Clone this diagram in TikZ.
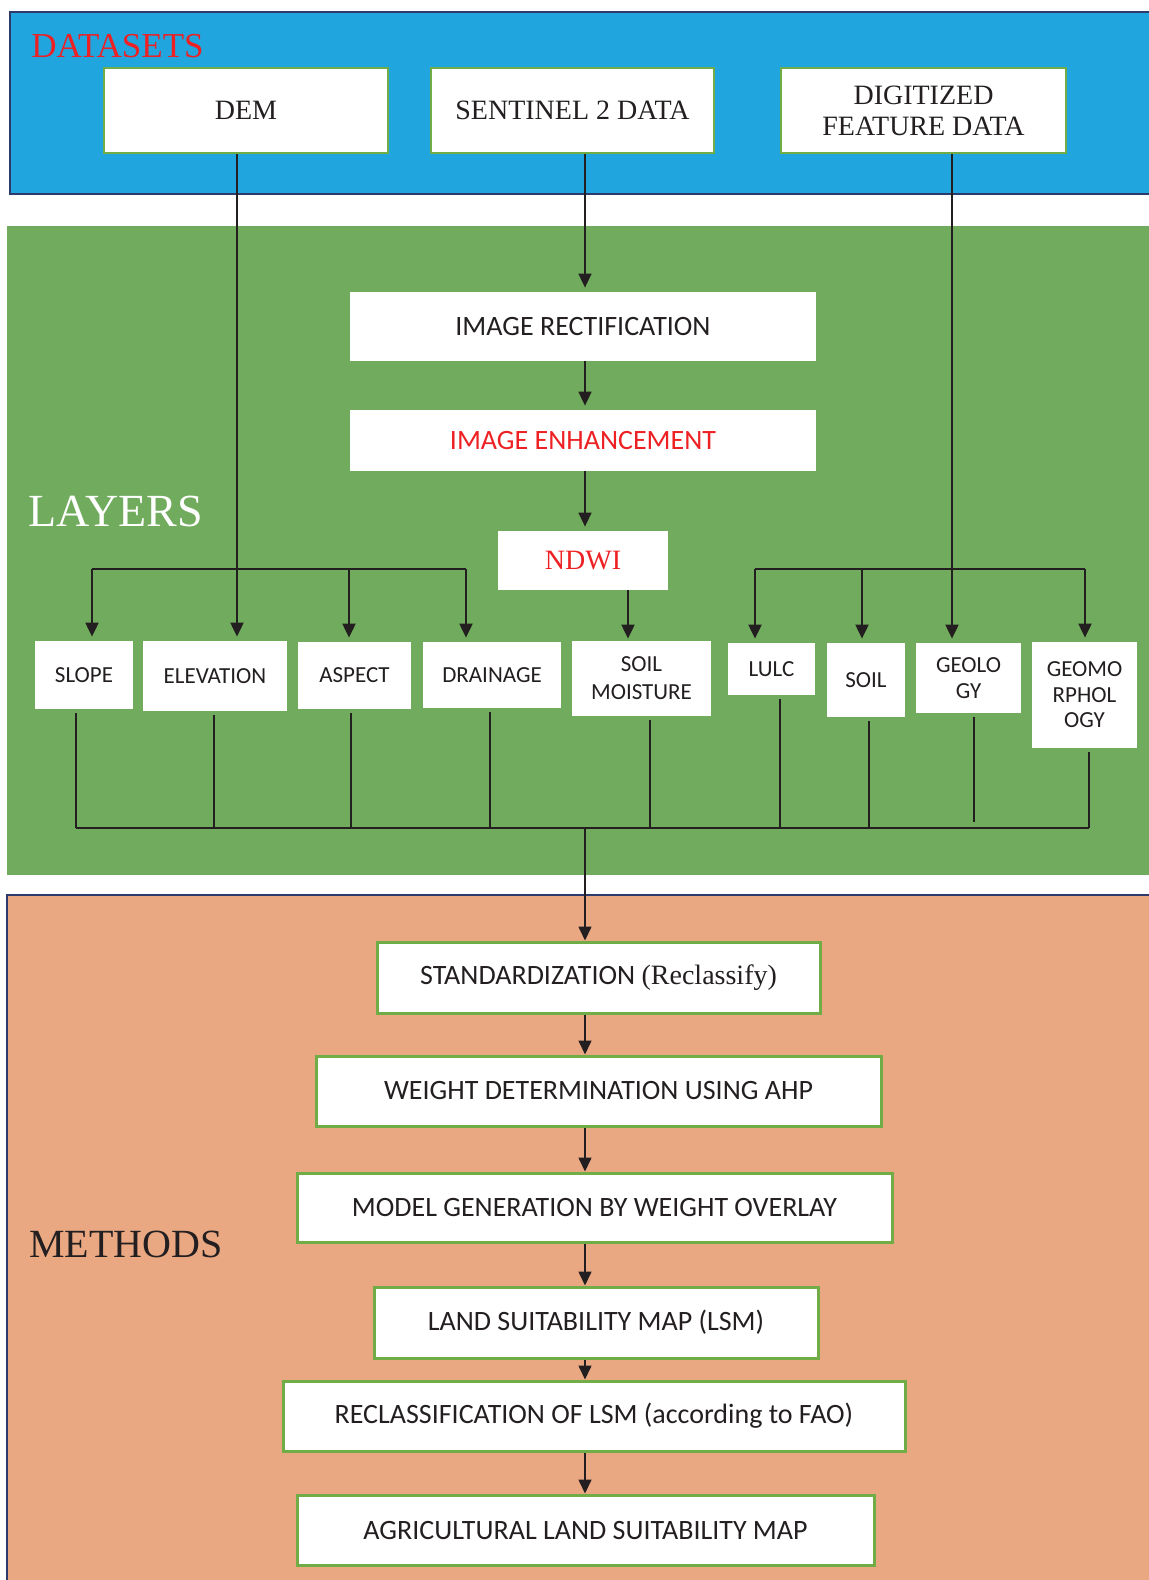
\documentclass[tikz,border=0pt]{standalone}
\usepackage{fontspec}
\setmainfont{Liberation Serif}
\newfontfamily\calfont{Carlito}
\usepackage{tikz}
\usetikzlibrary{arrows.meta,positioning,calc}
\definecolor{bandBlue}{RGB}{33,165,222}
\definecolor{bandGreen}{RGB}{113,171,93}
\definecolor{bandOrange}{RGB}{234,168,130}
\definecolor{frameNavy}{RGB}{46,58,107}
\definecolor{boxGreen}{RGB}{112,173,71}
\definecolor{txtRed}{RGB}{237,33,36}
\definecolor{txtDark}{RGB}{35,31,32}

\begin{document}
\begin{tikzpicture}[x=0.5pt,y=-0.5pt,
  databox/.style={draw=boxGreen,line width=1.2pt,fill=white,inner sep=0pt,align=center,text=txtDark,font=\fontsize{14}{15.5}\selectfont},
  stepbox/.style={fill=white,inner sep=0pt,align=center,text=txtDark,font=\calfont\fontsize{14}{16}\selectfont},
  layerbox/.style={fill=white,inner sep=0pt,align=center,text=txtDark,font=\calfont\fontsize{11.5}{12.8}\selectfont},
  methbox/.style={draw=boxGreen,line width=1.5pt,fill=white,inner sep=0pt,align=center,text=txtDark,font=\calfont\fontsize{14}{16}\selectfont},
  link/.style={txtDark,line width=0.6pt},
  bar/.style={txtDark,line width=1pt},
  arr/.style={txtDark,line width=1pt,-{Triangle[width=6.5pt,length=7pt]}},
  title/.style={anchor=west,inner sep=0pt}]
  \useasboundingbox (0,0) rectangle (1149,1580);
  % bands
  \fill[bandBlue] (10,12) rectangle (1149,194);
  \draw[frameNavy,line width=1.3pt] (1149,12) -- (10,12) -- (10,194) -- (1149,194);
  \fill[bandGreen] (7,226) rectangle (1149,875);
  \fill[bandOrange] (7,895) rectangle (1149,1580);
  \draw[frameNavy,line width=1.3pt] (1149,895) -- (7,895) -- (7,1580);
  \node[title,text=txtRed,font=\fontsize{17.5}{20}\selectfont] (tData) at (31,46) {DATASETS};
  \node[title,text=white,font=\fontsize{23}{26}\selectfont] (tLay) at (28,511) {LAYERS};
  \node[title,text=txtDark,font=\fontsize{20}{23}\selectfont] (tMeth) at (29,1244) {METHODS};
  % datasets
  \node[databox,minimum width=142pt,minimum height=42.5pt] (dem) at (246,110.5) {DEM};
  \node[databox,minimum width=141.5pt,minimum height=42.5pt] (sentinel) at (572.5,110.5) {SENTINEL 2 DATA};
  \node[databox,minimum width=142.5pt,minimum height=42.5pt] (digitized) at (923.5,110.5) {DIGITIZED\\FEATURE DATA};
  % image chain
  \node[stepbox,minimum width=233pt,minimum height=34.5pt] (rectify) at (583,326.5) {IMAGE RECTIFICATION};
  \node[stepbox,minimum width=233pt,minimum height=30.5pt,text=txtRed] (enhance) at (583,440.5) {IMAGE ENHANCEMENT};
  \node[stepbox,minimum width=85pt,minimum height=29.5pt,text=txtRed,font=\fontsize{14}{16}\selectfont] (ndwi) at (583,560.5) {NDWI};
  % layers
  \node[layerbox,minimum width=49pt,minimum height=34pt] (slope) at (84,675) {SLOPE};
  \node[layerbox,minimum width=72pt,minimum height=35pt] (elevation) at (215,676) {ELEVATION};
  \node[layerbox,minimum width=56.5pt,minimum height=33.5pt] (aspect) at (354.5,675.5) {ASPECT};
  \node[layerbox,minimum width=69pt,minimum height=33pt] (drainage) at (492,675) {DRAINAGE};
  \node[layerbox,minimum width=69.5pt,minimum height=37.5pt,font=\calfont\fontsize{11.5}{14}\selectfont] (moisture) at (641.5,678.5) {SOIL\\MOISTURE};
  \node[layerbox,minimum width=43.5pt,minimum height=26pt] (lulc) at (771.5,669) {LULC};
  \node[layerbox,minimum width=39pt,minimum height=37pt] (soil) at (866,680) {SOIL};
  \node[layerbox,minimum width=52.5pt,minimum height=35pt] (geology) at (968.5,678) {GEOLO\\GY};
  \node[layerbox,minimum width=52.5pt,minimum height=53pt] (geomorph) at (1084.5,695) {GEOMO\\RPHOL\\OGY};
  % methods
  \node[methbox,minimum width=221.5pt,minimum height=35.5pt] (stdz) at (598.5,977.5) {STANDARDIZATION {\rmfamily (Reclassify)}};
  \node[methbox,minimum width=282.5pt,minimum height=35pt] (weight) at (598.5,1091) {WEIGHT DETERMINATION USING AHP};
  \node[methbox,minimum width=297.5pt,minimum height=34.5pt] (model) at (594.5,1207.5) {MODEL GENERATION BY WEIGHT OVERLAY};
  \node[methbox,minimum width=222pt,minimum height=35.5pt] (lsm) at (596,1322.5) {LAND SUITABILITY MAP (LSM)};
  \node[methbox,minimum width=311pt,minimum height=35pt] (reclass) at (594,1416) {RECLASSIFICATION OF LSM (according to FAO)};
  \node[methbox,minimum width=288.5pt,minimum height=35pt] (agri) at (585.5,1530) {AGRICULTURAL LAND SUITABILITY MAP};
  % taps on the upper brackets (y=569) and drops on the lower bus (y=828)
  \coordinate (tS) at (92,569);   \coordinate (tE) at (237,569);
  \coordinate (tA) at (349,569);  \coordinate (tD) at (466,569);
  \coordinate (tL) at (755,569);  \coordinate (tSo) at (862,569);
  \coordinate (tG) at (952,569);  \coordinate (tGm) at (1085,569);
  \coordinate (tM) at (628,0);
  \coordinate (dS) at (76,828);   \coordinate (dE) at (214,828);
  \coordinate (dA) at (351,828);  \coordinate (dD) at (490,828);
  \coordinate (dM) at (650,828);  \coordinate (dL) at (780,828);
  \coordinate (dSo) at (869,828); \coordinate (dG) at (974,828);
  \coordinate (dGm) at (1089,828);
  \coordinate (bus) at (585,828);
  % datasets to layers
  \draw[link] (dem.south -| tE) -- (tE);
  \draw[link] (digitized.south -| tG) -- (tG);
  \draw[bar] (tS) -- (tD);
  \draw[bar] (tL) -- (tGm);
  \foreach \t/\b in {tS/slope,tE/elevation,tA/aspect,tD/drainage,tL/lulc,tSo/soil,tG/geology,tGm/geomorph}
    \draw[arr,shorten >=2pt] (\t) -- (\t |- \b.north);
  % image chain
  \draw[arr,line width=0.8pt,shorten >=2pt] (sentinel.south -| bus) -- (rectify.north -| bus);
  \draw[arr,line width=0.8pt,shorten >=2pt] (rectify.south -| bus) -- (enhance.north -| bus);
  \draw[arr,line width=0.8pt,shorten >=2pt] (enhance.south -| bus) -- (ndwi.north -| bus);
  \draw[arr,shorten >=1pt] (ndwi.south -| tM) -- (moisture.north -| tM);
  % layers to the lower bus
  \foreach \d/\b in {dS/slope,dE/elevation,dA/aspect,dD/drainage,dM/moisture,dL/lulc,dSo/soil,dGm/geomorph}
    \draw[bar,shorten <=2pt] (\b.south -| \d) -- (\d);
  \draw[bar,shorten <=2pt,shorten >=3pt] (geology.south -| dG) -- (dG);
  \draw[bar] (dS) -- (dGm);
  % methods chain
  \draw[arr,line width=0.8pt] (bus) -- (bus |- stdz.north);
  \foreach \a/\b in {stdz/weight,weight/model,model/lsm,lsm/reclass,reclass/agri}
    \draw[arr,line width=0.8pt] (\a.south -| bus) -- (\b.north -| bus);
\end{tikzpicture}
\end{document}
